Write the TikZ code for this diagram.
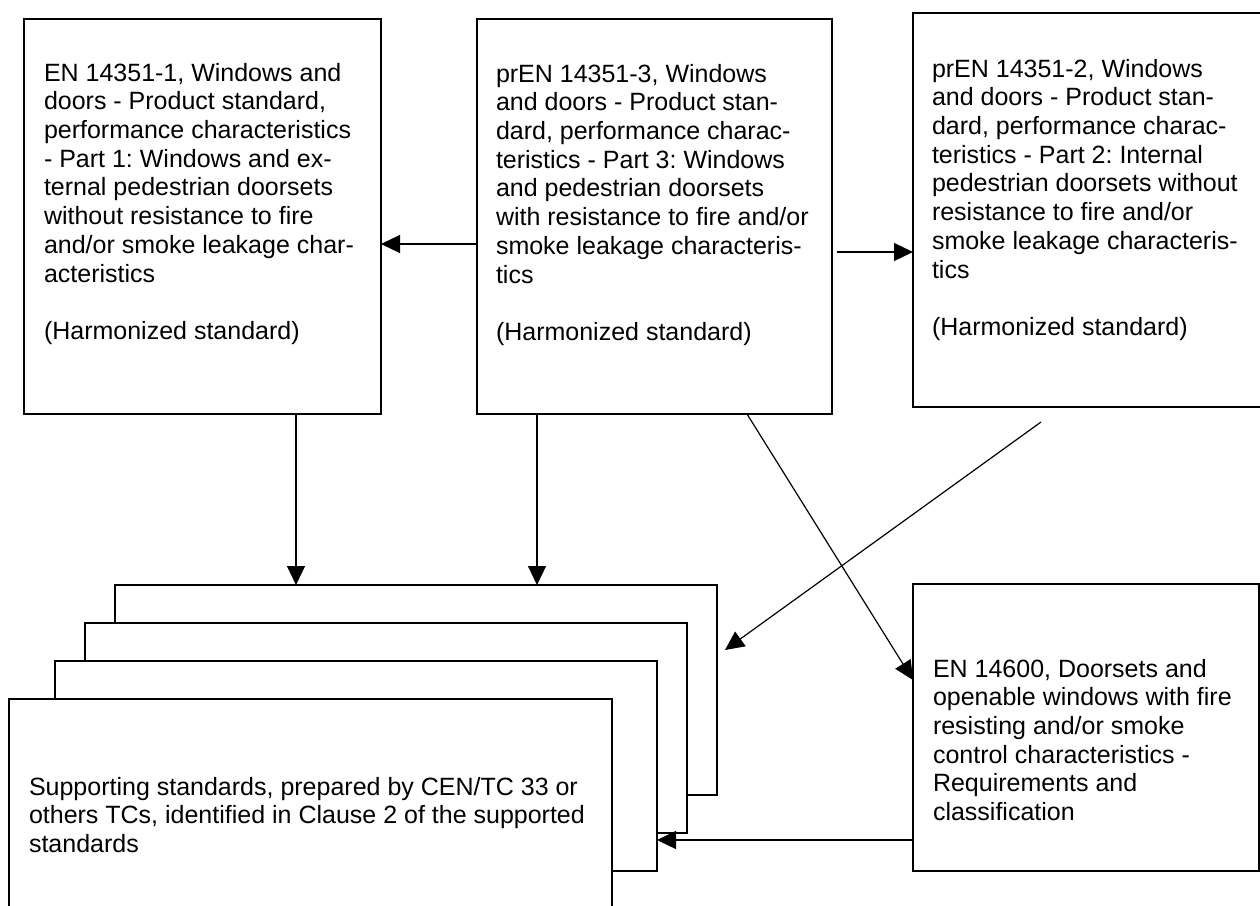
\documentclass[tikz,border=0pt]{standalone}
\usepackage{fontspec}
\setmainfont{Liberation Sans}
\usetikzlibrary{arrows.meta}
\frenchspacing
\begin{document}
\begin{tikzpicture}[x=1pt,y=-1pt,
  box/.style={draw, line width=1.4pt, fill=white, inner sep=0pt, outer sep=0pt, anchor=north west},
  txt/.style={inner sep=0pt, outer sep=0pt, anchor=north west, align=left, font=\fontsize{25}{28.7}\selectfont\frenchspacing},
  arr/.style={line width=1.2pt, -{Triangle[length=19pt,width=18pt]}}]
\useasboundingbox (0,0) rectangle (1260,905);
\clip (0,0) rectangle (1260,905);
\fill[white] (0,0) rectangle (1260,905);
% top boxes
\node[box, minimum width=357pt, minimum height=395pt] (b1) at (24,19) {};
\node[box, minimum width=355pt, minimum height=395pt] (b2) at (477,19) {};
\node[box, minimum width=360pt, minimum height=394pt] (b3) at (913,13) {};
\node[box, minimum width=346pt, minimum height=287pt] (en) at (913,584) {};
% stacked supporting standards
\node[box, minimum width=602pt, minimum height=210pt] (s4) at (115,585) {};
\node[box, minimum width=602pt, minimum height=210pt] (s3) at (85,623) {};
\node[box, minimum width=602pt, minimum height=210pt] (s2) at (55,661) {};
\node[box, minimum width=603pt, minimum height=215pt] (s1) at (9,699) {};
% texts
\node[txt] (t1) at (44,63) {EN 14351-1, Windows and\\doors - Product standard,\\performance characteristics\\- Part 1: Windows and ex-\\ternal pedestrian doorsets\\without resistance to fire\\and/or smoke leakage char-\\acteristics\\[28.7pt](Harmonized standard)};
\node[txt] (t2) at (496,64) {prEN 14351-3, Windows\\and doors - Product stan-\\dard, performance charac-\\teristics - Part 3: Windows\\and pedestrian doorsets\\with resistance to fire and/or\\smoke leakage characteris-\\tics\\[28.7pt](Harmonized standard)};
\node[txt] (t3) at (932,59) {prEN 14351-2, Windows\\and doors - Product stan-\\dard, performance charac-\\teristics - Part 2: Internal\\pedestrian doorsets without\\resistance to fire and/or\\smoke leakage characteris-\\tics\\[28.7pt](Harmonized standard)};
\node[txt] (ten) at (933,659) {EN 14600, Doorsets and\\openable windows with fire\\resisting and/or smoke\\control characteristics -\\Requirements and\\classification};
\node[txt] (ts) at (29,777) {Supporting standards, prepared by CEN/TC 33 or\\others TCs, identified in Clause 2 of the supported\\standards};
% connector coordinates
\coordinate (c21) at ([yshift=-225pt]b2.north west);
\coordinate (c23) at ([xshift=5pt,yshift=-233pt]b2.north east);
\coordinate (c1s) at ([xshift=272pt]b1.south west);
\coordinate (c2s) at ([xshift=60pt]b2.south west);
\coordinate (c2e) at ([xshift=270pt]b2.south west);
\coordinate (ce) at ([yshift=-96pt]en.north west);
\coordinate (c3f) at (1041,422);
\coordinate (c3t) at ([xshift=8pt,yshift=-65pt]s4.north east);
\coordinate (ces) at ([yshift=-256pt]en.north west);
% connectors
\draw[arr] (c21) -- (c21 -| b1.east);
\draw[arr] (c23) -- (c23 -| b3.west);
\draw[arr] (c1s) -- (c1s |- s4.north);
\draw[arr] (c2s) -- (c2s |- s4.north);
\draw[arr] (c2e) -- (ce);
\draw[arr] (c3f) -- (c3t);
\draw[arr] (ces) -- (ces -| s2.east);
\end{tikzpicture}
\end{document}
